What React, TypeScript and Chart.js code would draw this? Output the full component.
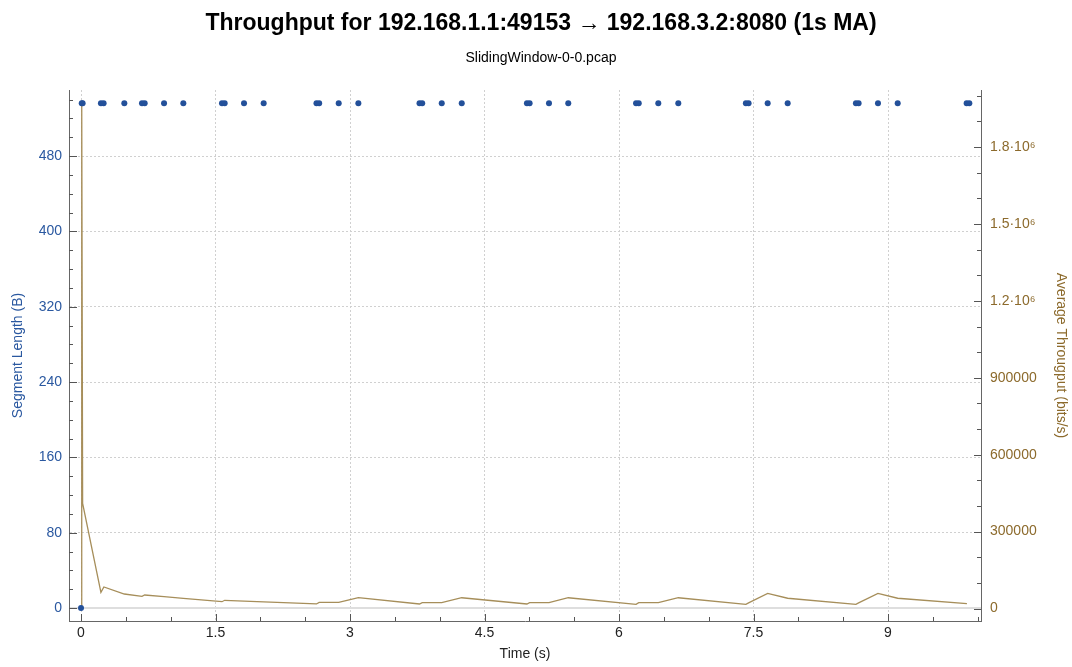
import React, { useEffect, useRef } from 'react';
import { Chart, registerables } from 'chart.js';

Chart.register(...registerables);

// Segment length scatter (blue dots)
const segTimes = [
  0, 0.008, 0.018, 0.222, 0.252, 0.483, 0.68, 0.71, 0.926, 1.141,
  1.572, 1.602, 1.818, 2.037, 2.626, 2.656, 2.874, 3.093,
  3.775, 3.805, 4.023, 4.246, 4.973, 5.003, 5.219, 5.434,
  6.19, 6.22, 6.438, 6.661, 7.415, 7.445, 7.658, 7.881,
  8.642, 8.672, 8.888, 9.108, 9.877, 9.907,
];
const segLengths = [
  0, 536, 536, 536, 536, 536, 536, 536, 536, 536,
  536, 536, 536, 536, 536, 536, 536, 536,
  536, 536, 536, 536, 536, 536, 536, 536,
  536, 536, 536, 536, 536, 536, 536, 536,
  536, 536, 536, 536, 536, 536,
];

// Average throughput (1s MA)
const tpTimes = [
  0, 0.008, 0.018, 0.222, 0.255, 0.483, 0.68, 0.71, 0.926, 1.141,
  1.572, 1.602, 1.818, 2.037, 2.626, 2.656, 2.874, 3.093,
  3.775, 3.805, 4.023, 4.246, 4.973, 5.003, 5.219, 5.434,
  6.19, 6.22, 6.438, 6.661, 7.415, 7.445, 7.658, 7.881,
  8.642, 8.672, 8.888, 9.108, 9.88,
];
const tpValues = [
  0, 1975000, 410000, 63000, 84000, 56500, 47600, 52600, 46000, 39600,
  26500, 32000, 28900, 25800, 17800, 24000, 24000, 42500,
  17500, 22600, 22600, 42000, 17500, 22600, 22600, 42000,
  16400, 22600, 22600, 42000, 16400, 22000, 59000, 40000,
  16400, 22000, 59000, 40000, 18700,
];

// Ticks
const xTickValues = [0, 0.5, 1, 1.5, 2, 2.5, 3, 3.5, 4, 4.5, 5, 5.5, 6, 6.5, 7, 7.5, 8, 8.5, 9, 9.5, 10];
const xLabelValues = [0, 1.5, 3, 4.5, 6, 7.5, 9];
const yTickValues = [0, 20, 40, 60, 80, 100, 120, 140, 160, 180, 200, 220, 240, 260, 280, 300, 320, 340, 360, 380, 400, 420, 440, 460, 480, 500, 520, 540];
const yLabelValues = [0, 80, 160, 240, 320, 400, 480];
const y2TickValues = [0, 100000, 200000, 300000, 400000, 500000, 600000, 700000, 800000, 900000, 1000000, 1100000, 1200000, 1300000, 1400000, 1500000, 1600000, 1700000, 1800000, 1900000, 2000000];
const y2LabelValues = [0, 300000, 600000, 900000, 1200000, 1500000, 1800000];
const y2LabelTexts = ['0', '300000', '600000', '900000', '1.2·10⁶', '1.5·10⁶', '1.8·10⁶'];

const FONT = "'Liberation Sans', Arial, sans-serif";
const BLUE = '#2a58a0';
const BROWN = '#8c6a2c';
const LINE = '#a68e5a';
const DOT = '#23509a';

const near = (arr: number[], v: number) => arr.some((a) => Math.abs(a - v) < 1e-6);

const innerTicks = {
  id: 'innerTicks',
  afterDraw(chart: any) {
    const { ctx, chartArea, scales } = chart;
    ctx.save();
    ctx.strokeStyle = '#555';
    ctx.lineWidth = 1;
    ctx.beginPath();
    const sx = scales.x;
    sx.ticks.forEach((t: any) => {
      const px = Math.round(sx.getPixelForValue(t.value)) + 0.5;
      const len = near(xLabelValues, t.value) ? 7 : 4;
      ctx.moveTo(px, chartArea.bottom);
      ctx.lineTo(px, chartArea.bottom - len);
    });
    const sy = scales.y;
    sy.ticks.forEach((t: any) => {
      const py = Math.round(sy.getPixelForValue(t.value)) + 0.5;
      const len = near(yLabelValues, t.value) ? 8 : 4;
      ctx.moveTo(chartArea.left, py);
      ctx.lineTo(chartArea.left + len, py);
    });
    const s2 = scales.y2;
    s2.ticks.forEach((t: any) => {
      const py = Math.round(s2.getPixelForValue(t.value)) + 0.5;
      const len = near(y2LabelValues, t.value) ? 7 : 4;
      ctx.moveTo(chartArea.right, py);
      ctx.lineTo(chartArea.right - len, py);
    });
    ctx.stroke();
    ctx.restore();
  },
};

export default function App() {
  const ref = useRef<HTMLCanvasElement | null>(null);

  useEffect(() => {
    document.body.style.margin = '0';
    const canvas = ref.current;
    if (!canvas) return;
    const chart = new Chart(canvas, {
      type: 'scatter',
      data: {
        datasets: [
          {
            label: 'Segment Length',
            data: segTimes.map((t, i) => ({ x: t, y: segLengths[i] })),
            yAxisID: 'y',
            showLine: false,
            pointRadius: 3,
            pointBorderWidth: 0,
            pointBackgroundColor: DOT,
            pointBorderColor: DOT,
          },
          {
            label: 'Average Throughput',
            data: tpTimes.map((t, i) => ({ x: t, y: tpValues[i] })),
            yAxisID: 'y2',
            showLine: true,
            borderColor: LINE,
            borderWidth: 1.3,
            pointRadius: 0,
            tension: 0,
            fill: false,
          },
        ],
      },
      options: {
        responsive: false,
        animation: false,
        layout: { padding: { left: 10, right: 0, top: 0, bottom: 0 } },
        plugins: {
          legend: { display: false },
          tooltip: { enabled: false },
          title: {
            display: true,
            text: 'Throughput for 192.168.1.1:49153 → 192.168.3.2:8080 (1s MA)',
            color: '#000',
            font: { family: FONT, size: 23, weight: 'bold' },
            padding: { top: 10, bottom: 11 },
          },
          subtitle: {
            display: true,
            text: 'SlidingWindow-0-0.pcap',
            color: '#000',
            font: { family: FONT, size: 14 },
            padding: { top: 1, bottom: 23.6 },
          },
        },
        scales: {
          x: {
            type: 'linear',
            position: 'bottom',
            min: -0.134,
            max: 10.037,
            afterBuildTicks: (s: any) => {
              s.ticks = xTickValues.map((v) => ({ value: v }));
            },
            afterFit: (s: any) => {
              s.height = 46;
            },
            ticks: {
              autoSkip: false,
              maxRotation: 0,
              padding: 4,
              color: '#222',
              font: { family: FONT, size: 14 },
              callback: (v: any) => (near(xLabelValues, Number(v)) ? String(Number(v)) : ''),
            },
            grid: {
              drawTicks: false,
              color: (c: any) => (c.tick && near(xLabelValues, c.tick.value) ? '#d0d0d0' : 'rgba(0,0,0,0)'),
              lineWidth: 1,
            },
            border: { display: true, color: '#666', width: 1, dash: [2, 2] },
            title: {
              display: true,
              text: 'Time (s)',
              color: '#222',
              font: { family: FONT, size: 14 },
              padding: { top: 0, bottom: 4 },
            },
          },
          y: {
            type: 'linear',
            position: 'left',
            min: -13.8,
            max: 550.1,
            afterBuildTicks: (s: any) => {
              s.ticks = yTickValues.map((v) => ({ value: v }));
            },
            afterFit: (s: any) => {
              s.width = 59;
            },
            ticks: {
              autoSkip: false,
              padding: 7,
              color: BLUE,
              font: { family: FONT, size: 14 },
              callback: (v: any) => (near(yLabelValues, Number(v)) ? String(Number(v)) : ''),
            },
            grid: {
              drawTicks: false,
              color: (c: any) => {
                if (!c.tick) return 'rgba(0,0,0,0)';
                if (Math.abs(c.tick.value) < 1e-6) return '#dedede';
                return near(yLabelValues, c.tick.value) ? '#d0d0d0' : 'rgba(0,0,0,0)';
              },
              lineWidth: (c: any) => (c.tick && Math.abs(c.tick.value) < 1e-6 ? 2 : 1),
            },
            border: {
              display: true,
              color: '#666',
              width: 1,
              dash: (c: any) => (c.tick && Math.abs(c.tick.value) < 1e-6 ? [] : [2, 2]),
            },
            title: {
              display: true,
              text: 'Segment Length (B)',
              color: BLUE,
              font: { family: FONT, size: 14 },
              padding: { top: 0, bottom: 0 },
            },
          },
          y2: {
            type: 'linear',
            position: 'right',
            min: -48764,
            max: 2022757,
            afterBuildTicks: (s: any) => {
              s.ticks = y2TickValues.map((v) => ({ value: v }));
            },
            afterFit: (s: any) => {
              s.width = 91;
            },
            ticks: {
              autoSkip: false,
              padding: 9,
              color: BROWN,
              font: { family: FONT, size: 14 },
              callback: (v: any) => {
                const idx = y2LabelValues.findIndex((a) => Math.abs(a - Number(v)) < 1e-3);
                return idx >= 0 ? y2LabelTexts[idx] : '';
              },
            },
            grid: { drawTicks: false, drawOnChartArea: false },
            border: { display: true, color: '#666', width: 1 },
            title: {
              display: true,
              text: 'Average Througput (bits/s)',
              color: BROWN,
              font: { family: FONT, size: 14 },
              padding: { top: 3, bottom: 0 },
            },
          },
        },
      },
      plugins: [innerTicks],
    } as any);
    return () => chart.destroy();
  }, []);

  return (
    <div style={{ position: 'absolute', left: 0, top: 0, width: 1072, height: 667, background: '#fff' }}>
      <canvas ref={ref} width={1072} height={667} />
    </div>
  );
}
